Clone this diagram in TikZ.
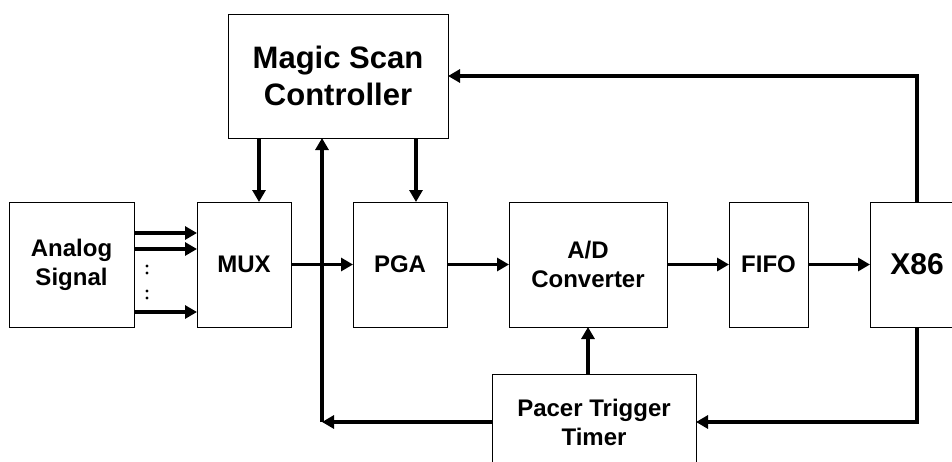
\documentclass[tikz,border=0pt]{standalone}
\usepackage{fontspec}
\setmainfont{Liberation Sans}
\usetikzlibrary{arrows.meta,positioning,calc}

\begin{document}
\begin{tikzpicture}[x=1pt,y=-1pt,
  blk/.style={draw,line width=1pt,inner sep=0pt,outer sep=0pt,align=center,
    minimum height=125pt,font=\fontsize{24}{29}\selectfont\bfseries},
  big/.style={font=\fontsize{31}{37}\selectfont\bfseries},
  flow/.style={line width=3.6pt,-{Triangle[length=12pt,width=13pt]}}]

  \clip (0,0) rectangle (952,461);

  % data path, left to right
  \node[blk,minimum width=125pt] (ana)  at (71.5,264.5) {Analog\\Signal};
  \node[blk,minimum width=94pt]  (mux)  at (244,264.5)  {MUX};
  \node[blk,minimum width=94pt]  (pga)  at (400,264.5)  {PGA};
  \node[blk,minimum width=158pt] (adc)  at (588,264.5)  {A/D\\Converter};
  \node[blk,minimum width=79pt]  (fifo) at (768.5,264.5) {FIFO};
  \node[blk,minimum width=94pt,font=\fontsize{30}{36}\selectfont\bfseries] (cpu) at (917,264.5) {X86};

  \node[blk,big,minimum width=220pt,minimum height=124pt] (msc) at (338,76) {Magic Scan\\Controller};
  \node[blk,minimum width=204pt,minimum height=96pt] (pacer) at (594,422) {Pacer Trigger\\Timer};

  \foreach \dy in {31.5,15.5,-47.5}
    \draw[flow] ([yshift=\dy pt]ana.east) -- ([yshift=\dy pt]mux.west);
  \foreach \y in {266,273,291,298}
    \fill (147,\y) circle (1.6pt);

  \draw[flow] (mux.east) -- (pga.west);
  \draw[flow] (pga.east) -- (adc.west);
  \draw[flow] (adc.east) -- (fifo.west);
  \draw[flow] (fifo.east) -- (cpu.west);

  % controller to MUX and PGA
  \coordinate (mscA) at ([xshift=31pt]msc.south west);
  \coordinate (mscB) at ([xshift=-32pt]msc.south east);
  \draw[flow] (mscA) -- (mscA |- mux.north);
  \draw[flow] (mscB) -- (mscB |- pga.north);

  % feedback loops
  \draw[flow] (cpu.north) |- (msc.east);
  \draw[flow] (cpu.south) |- (pacer.east);
  \draw[flow] (adc.south |- pacer.north) -- (adc.south);
  \coordinate (turn) at (322,422);
  \draw[flow] (pacer.west) -- (turn);
  \draw[flow] (turn) -- (turn |- msc.south);
\end{tikzpicture}
\end{document}
